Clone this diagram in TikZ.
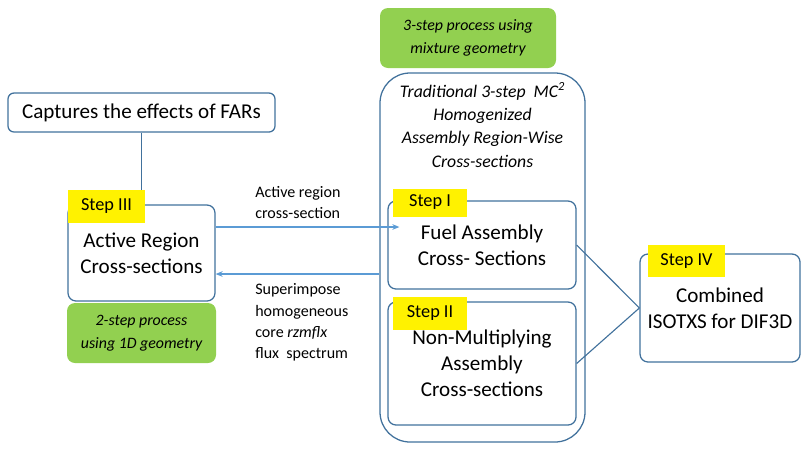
\documentclass[tikz,border=0pt]{standalone}
\usepackage{fontspec}
\setmainfont{Carlito}
\usetikzlibrary{arrows.meta,calc}
\definecolor{boxblue}{HTML}{41719C}
\definecolor{flowblue}{HTML}{5B9BD5}
\definecolor{notegreen}{HTML}{92D050}
\newcommand{\px}{0.025cm}
\tikzset{
  boxsize/.style 2 args={minimum width=#1*\px,minimum height=#2*\px},
  box/.style={draw=boxblue,line width=0.9pt,rounded corners=0.2cm,inner sep=0pt,align=center,
    font=\fontsize{15}{18.5}\selectfont},
  steptag/.style={fill=yellow,inner sep=0pt,font=\fontsize{13}{15}\selectfont},
  note/.style={fill=notegreen,rounded corners=0.2cm,inner sep=0pt,align=center,
    font=\fontsize{11.3}{16}\selectfont\itshape},
  tag/.style={align=left,anchor=west,inner sep=0pt,font=\fontsize{11.4}{15.2}\selectfont},
  flow/.style={draw=flowblue,line width=0.8pt,-{Stealth[length=5pt,width=4pt]}},
  link/.style={draw=boxblue,line width=0.8pt}
}
\begin{document}
\begin{tikzpicture}[x=0.025cm,y=-0.025cm]
  \useasboundingbox (0,0) rectangle (808,462);
  % green notes
  \node[note,boxsize={176}{60}] (mixgeo) at (468,38) {3-step process using\\mixture geometry};
  \node[note,boxsize={149}{60}] (onedgeo) at (141.5,333) {2-step process\\using 1D geometry};
  % boxes
  \begin{scope}[every node/.style={box}]
    \node[boxsize={205}{369},rounded corners=0.75cm] (trad) at (482.5,257.5) {};
    \node[boxsize={188}{88}] (fuel) at (482,245) {Fuel Assembly\\Cross- Sections};
    \node[boxsize={188}{123}] (nonmult) at (482,363.5) {Non-Multiplying\\Assembly\\Cross-sections};
    \node[boxsize={160}{108}] (isotxs) at (720,308) {Combined\\ISOTXS for DIF3D};
    \node[boxsize={267}{39},rounded corners=0.15cm] (captures) at (141.5,112.5) {Captures the effects of FARs};
    \node[boxsize={147}{96}] (active) at (141.5,253) {Active Region\\Cross-sections};
  \end{scope}
  \node[font=\fontsize{12.6}{16.6}\selectfont\itshape,align=center] (header) at (482.5,125)
    {Traditional 3-step\ \ MC\textsuperscript{2}\\Homogenized\\Assembly Region-Wise\\Cross-sections};
  % connectors
  \coordinate (a1) at ($(active.east)+(0,-26)$);
  \coordinate (a2) at ($(active.east)+(0,21)$);
  \draw[link] (captures) -- (active);
  \draw[flow] (a1) -- ($(a1 -| fuel.west)+(12,0)$);
  \draw[flow] (a2 -| trad.west) -- (a2);
  \draw[link] (fuel.east) -- (isotxs.west);
  \draw[link] (nonmult.east) -- (isotxs.west);
  \node[tag] (sendlbl) at (255,202.5) {Active region\\cross-section};
  \node[tag] (backlbl) at (255,322.5) {Superimpose\\homogeneous\\core \textit{rzmflx}\\flux\ \ spectrum};
  % step tags
  \node[steptag,boxsize={74}{28}] (stepI) at (430,202.5) {Step I};
  \node[steptag,boxsize={74}{33}] (stepII) at (430,313.5) {Step II};
  \node[steptag,boxsize={77}{33}] (stepIII) at (106.5,206.5) {Step III};
  \node[steptag,boxsize={77}{32}] (stepIV) at (686.5,261) {Step IV};
\end{tikzpicture}
\end{document}
